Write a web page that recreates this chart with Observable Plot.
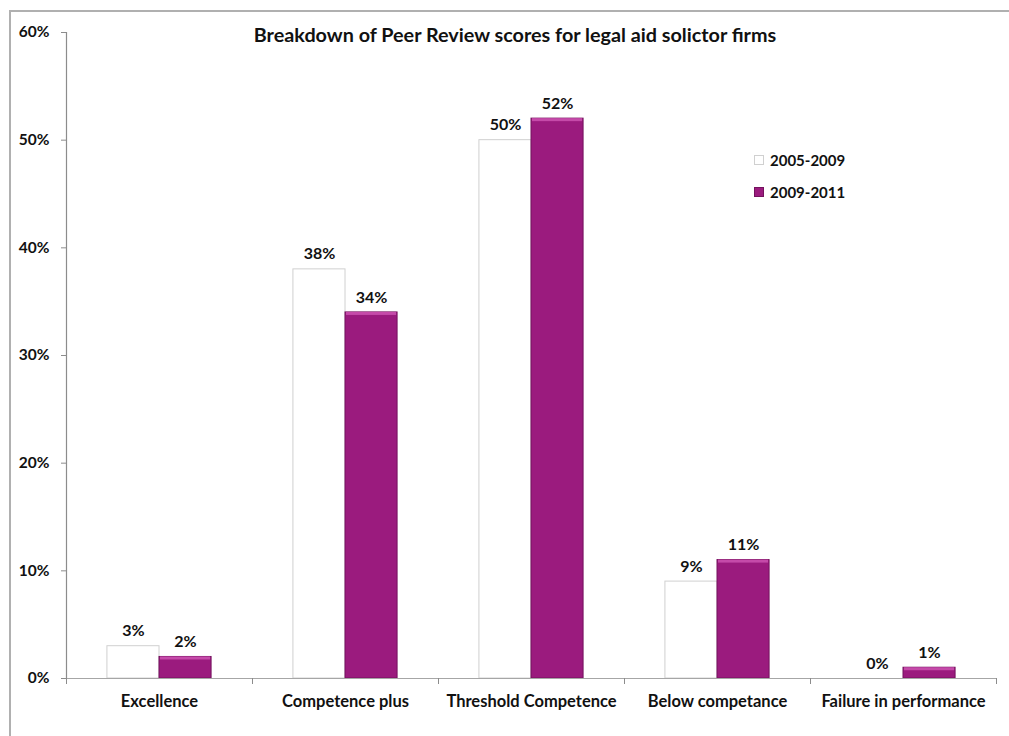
<!DOCTYPE html>
<html>
<head>
<meta charset="utf-8">
<script src="https://cdn.jsdelivr.net/npm/d3@7"></script>
<script src="https://cdn.jsdelivr.net/npm/@observablehq/plot@0.6"></script>
<style>
  html, body { margin: 0; padding: 0; background: #fff; }
  body { width: 1009px; height: 736px; position: relative; overflow: hidden; font-family: Lato, "Open Sans", sans-serif; }
  #border { position: absolute; left: 9px; top: 10px; width: 1100px; height: 800px; border-top: 2px solid #b0b0b0; border-left: 2px solid #b0b0b0; box-sizing: border-box; }
  #chart { position: absolute; left: 0; top: 0; }
  #title { position: absolute; top: 22px; left: 0; width: 1030px; text-align: center; font-weight: bold; font-size: 19.8px; color: #111; }
  #legend { position: absolute; left: 754px; top: 144px; font-weight: bold; font-size: 15px; color: #111; }
  #legend .item { display: flex; align-items: center; height: 32px; }
  #legend .sw { width: 10px; height: 10px; margin-right: 6px; box-sizing: border-box; }
</style>
</head>
<body>
<div id="border"></div>
<div id="chart"></div>
<div id="title">Breakdown of Peer Review scores for legal aid solictor firms</div>
<div id="legend"></div>
<script>
const categories = ["Excellence", "Competence plus", "Threshold Competence", "Below competance", "Failure in performance"];
const seriesNames = ["2005-2009", "2009-2011"];
const values2005_2009 = [3, 38, 50, 9, 0];
const values2009_2011 = [2, 34, 52, 11, 1];
const yTicks = [0, 10, 20, 30, 40, 50, 60];
const seriesColors = ["#ffffff", "#9b1b7e"];
const seriesStrokes = ["#d0d0d0", "#74125e"];

const rows = categories.flatMap((c, i) => [
  {category: c, i, s: 0, series: seriesNames[0], value: values2005_2009[i]},
  {category: c, i, s: 1, series: seriesNames[1], value: values2009_2011[i]}
]);

const half = 0.28; // half group width, in category units
const barW = half;
const x1 = d => d.i + 0.5 - half + d.s * barW;
const x2 = d => d.i + 0.5 - half + (d.s + 1) * barW;

const chart = Plot.plot({
  width: 1009,
  height: 736,
  marginLeft: 66,
  marginRight: 13,
  marginTop: 32,
  marginBottom: 58,
  style: {fontFamily: "Lato, 'Open Sans', sans-serif", background: "transparent"},
  x: {type: "linear", domain: [0, categories.length], axis: null},
  y: {domain: [0, 60], axis: null},
  marks: [
    Plot.rectY(rows.filter(d => d.value > 0), {
      x1, x2, y: "value",
      fill: d => seriesColors[d.s],
      stroke: d => seriesStrokes[d.s],
      strokeWidth: 1
    }),
    Plot.rectY(rows.filter(d => d.value > 0 && d.s === 1), {
      x1, x2, y1: d => d.value, y2: d => Math.max(0, d.value - 0.28),
      fill: "#c54aa9", insetLeft: 1, insetRight: 1
    }),
    Plot.ruleY([0], {stroke: "#a6a6a6", strokeWidth: 1.2}),
    Plot.ruleX([0], {stroke: "#8c8c8c", strokeWidth: 1.2}),
    Plot.axisY({
      ticks: yTicks, tickSize: 5, tickPadding: 12, label: null,
      tickFormat: d => d + "%", fontSize: 15.5, fontWeight: "bold",
      stroke: "#8c8c8c", fill: "#111"
    }),
    Plot.axisX({
      ticks: d3.range(0, categories.length + 1), tickSize: 6, label: null,
      tickFormat: () => "", stroke: "#8c8c8c"
    }),
    Plot.axisX({
      ticks: categories.map((c, i) => i + 0.5), tickSize: 0, tickPadding: 17, label: null,
      tickFormat: d => categories[Math.floor(d)],
      fontSize: 16.5, fontWeight: "bold", fill: "#111"
    }),
    Plot.text(rows, {
      x: d => (x1(d) + x2(d)) / 2, y: "value",
      text: d => d.value + "%", dy: -15,
      fontSize: 16, fontWeight: "bold", fill: "#111"
    })
  ]
});
document.getElementById("chart").appendChild(chart);

const legend = document.getElementById("legend");
seriesNames.forEach((name, k) => {
  const item = document.createElement("div");
  item.className = "item";
  const sw = document.createElement("span");
  sw.className = "sw";
  sw.style.background = seriesColors[k];
  sw.style.border = "1px solid " + seriesStrokes[k];
  item.appendChild(sw);
  item.appendChild(document.createTextNode(name));
  legend.appendChild(item);
});
</script>
</body>
</html>
